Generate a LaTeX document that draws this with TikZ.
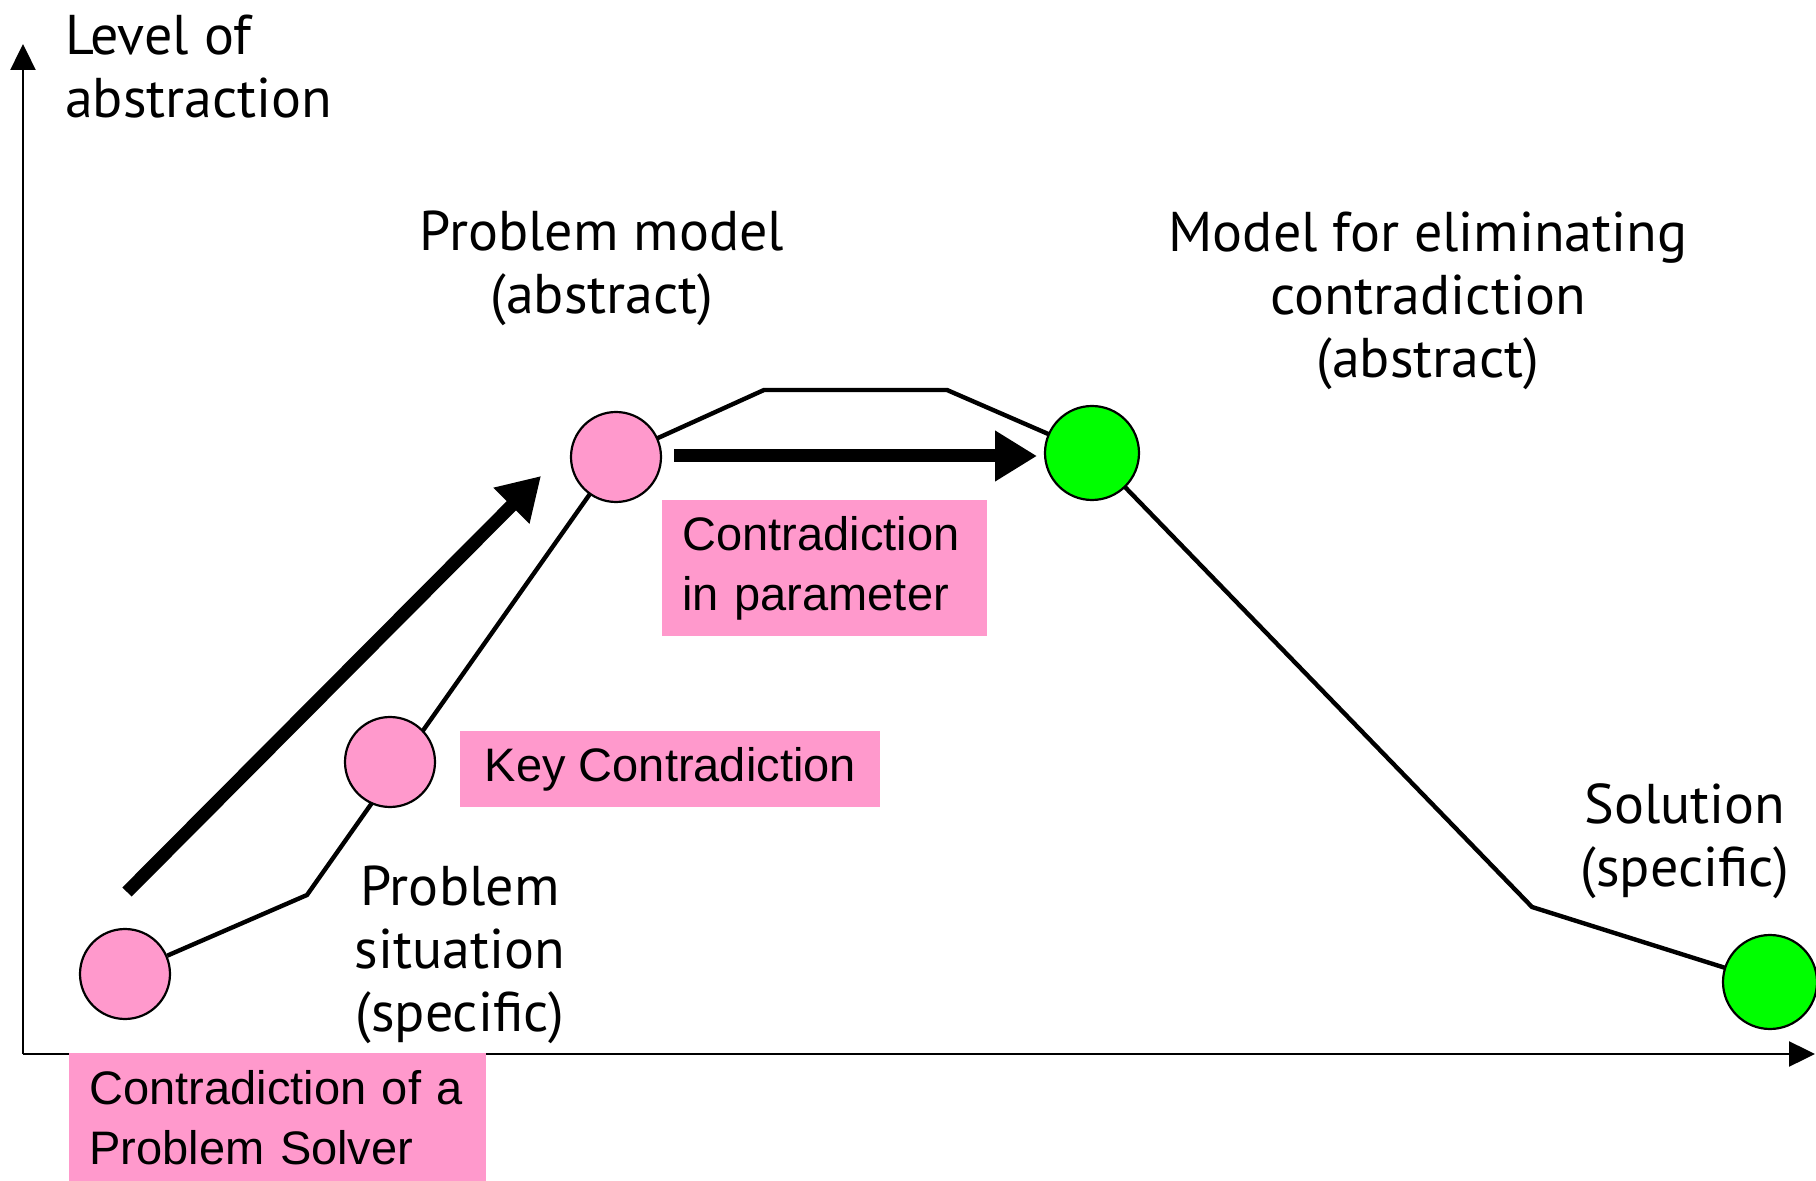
\documentclass[tikz,border=0pt]{standalone}
\usepackage{fontspec}
\setmainfont{PT Sans}
\newfontfamily\boxfont{Liberation Sans}
\usepackage{tikz}
\usetikzlibrary{arrows.meta,backgrounds}
\definecolor{pinkfill}{HTML}{FF99CC}
\definecolor{greenfill}{HTML}{00FF00}
\tikzset{
  stage/.style={circle,draw=black,line width=1.1pt,fill=pinkfill,minimum size=45pt,inner sep=0pt},
  goal/.style={stage,fill=greenfill,minimum size=47pt},
  path line/.style={line width=2.2pt},
  axis/.style={line width=1.2pt,-{Triangle[length=13pt,width=12.5pt]}},
  bigarrow/.style={line width=6.5pt,-{Triangle[length=21pt,width=24pt]}},
  lbl/.style={align=center,font=\fontsize{28}{31.5}\selectfont},
  pinkbox/.style={fill=pinkfill,anchor=north west,align=left,inner xsep=10pt,
    font=\boxfont\fontsize{23.5}{30}\selectfont}
}
\begin{document}
\begin{tikzpicture}[x=0.5pt,y=-0.5pt]
        \useasboundingbox (0,0) rectangle (1816,1181);
        % Axes
        \coordinate (origin) at (23,1054);
        \coordinate (ytop) at (23,44);
        \coordinate (xend) at (1815,1054);
        \draw[axis] (origin) -- (ytop);
        \draw[axis] (origin) -- (xend);
        \node[lbl,align=left,anchor=west] (yname) at (58,67) {Level of\\abstraction};

        % Stages
        \node[stage] (situation) at (125,974) {};
        \node[stage] (key) at (390,762) {};
        \node[stage] (model) at (616,457) {};
        \node[goal] (elim) at (1092,453) {};
        \node[goal] (solution) at (1770,982) {};
        \coordinate (b1) at (307,895);
        \coordinate (b2) at (764,390);
        \coordinate (b3) at (947,390);
        \coordinate (b4) at (1532,907);
        \begin{scope}[on background layer]
        \draw[path line] (situation) -- (b1) -- (model.center);
        \draw[path line] (model.center) -- (b2) -- (b3) -- (elim.center) -- (b4) -- (solution.center);
        \end{scope}

        % Big arrows
        \coordinate (up start) at (127,892);
        \coordinate (up end) at (541,476);
        \coordinate (right start) at (674,456);
        \coordinate (right end) at (1037,456);
        \draw[bigarrow] (up start) -- (up end);
        \draw[bigarrow] (right start) -- (right end);

        % Labels
        \node[lbl] (model lbl) at (602,268) {Problem model\\(abstract)};
        \node[lbl] (elim lbl) at (1428,301) {Model for eliminating\\contradiction\\(abstract)};
        \node[lbl] (solution lbl) at (1685,841) {Solution\\(specific)};
        \node[lbl] (situation lbl) at (460,955) {Problem\\situation\\(specific)};

        % Pink boxes
        \node[pinkbox,minimum width=162.5pt,minimum height=68pt,text width=142.5pt] (param box) at (662,500) {Contradiction\\in parameter};
        \node[pinkbox,minimum width=210pt,minimum height=38pt] (key box) at (460,731) {Key Contradiction};
        \node[pinkbox,minimum width=208.5pt,minimum height=64pt,text width=188.5pt] (solver box) at (69,1053) {Contradiction of a\\Problem Solver};
    \end{tikzpicture}
\end{document}
